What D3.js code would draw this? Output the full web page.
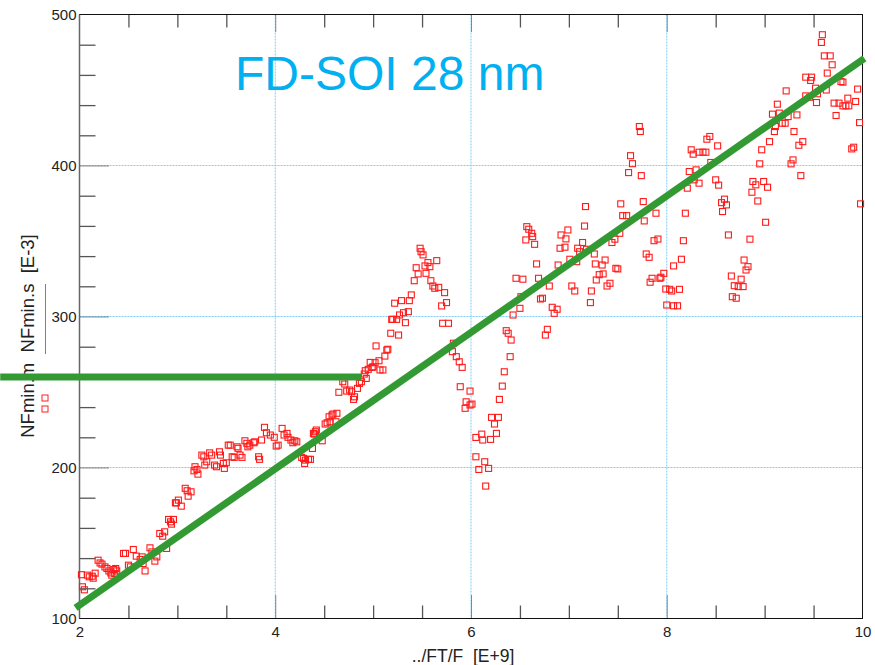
<!DOCTYPE html>
<html lang="en">
  <head>
    <title>NFmin</title>
    <meta charset="UTF-8">
    <script src="https://d3js.org/d3.v7.min.js"></script>
    <style>
      * {
        margin: 0;
        padding: 0;
      }
      body {
        background: white;
      }
      svg {
        display: block;
        font-family: 'Liberation Sans', Arial, sans-serif;
      }
    </style>
  </head>
  <body>
    <script>
      // measured NFmin.m points (x in E+9, y in E-3)
      const nfmX = [
        2.02, 2.03, 2.05, 2.08, 2.10, 2.13, 2.14, 2.16, 2.19, 2.21, 2.23, 2.26, 2.28, 2.30, 2.32, 2.33, 2.35, 2.36, 2.37, 2.38,
        2.45, 2.47, 2.50, 2.52, 2.55, 2.58, 2.62, 2.64, 2.65, 2.67, 2.72, 2.74, 2.77, 2.79, 2.82, 2.85, 2.87, 2.89, 2.91, 2.93,
        2.94, 2.96, 2.98, 2.99, 3.01, 3.04, 3.08, 3.10, 3.11, 3.14, 3.17, 3.18, 3.20, 3.21, 3.25, 3.27, 3.28, 3.30, 3.33, 3.35,
        3.38, 3.40, 3.43, 3.44, 3.47, 3.48, 3.50, 3.52, 3.54, 3.56, 3.58, 3.61, 3.62, 3.64, 3.66, 3.69, 3.71, 3.72, 3.74, 3.78,
        3.79, 3.83, 3.84, 3.86, 3.89, 3.91, 3.95, 3.99, 4.01, 4.03, 4.07, 4.09, 4.12, 4.13, 4.16, 4.18, 4.20, 4.22, 4.27, 4.29,
        4.30, 4.31, 4.34, 4.36, 4.38, 4.39, 4.40, 4.41, 4.42, 4.48, 4.51, 4.53, 4.55, 4.56, 4.58, 4.59, 4.62, 4.63, 4.65, 4.69,
        4.71, 4.73, 4.76, 4.78, 4.80, 4.81, 4.84, 4.86, 4.88, 4.91, 4.92, 4.93, 4.95, 4.97, 4.99, 5.00, 5.02, 5.03, 5.06, 5.07,
        5.10, 5.12, 5.14, 5.15, 5.18, 5.19, 5.20, 5.22, 5.24, 5.26, 5.27, 5.29, 5.31, 5.33, 5.36, 5.37, 5.39, 5.42, 5.44, 5.46,
        5.48, 5.49, 5.51, 5.53, 5.54, 5.56, 5.58, 5.59, 5.61, 5.63, 5.65, 5.67, 5.70, 5.71, 5.73, 5.75, 5.77, 5.81, 5.82, 5.85,
        5.88, 5.89, 5.91, 5.94, 5.95, 5.99, 5.99, 6.01, 6.05, 6.05, 6.08, 6.11, 6.12, 6.14, 6.15, 6.18, 6.20, 6.21, 6.24, 6.26,
        6.28, 6.29, 6.32, 6.34, 6.36, 6.38, 6.40, 6.41, 6.43, 6.46, 6.50, 6.51, 6.53, 6.56, 6.57, 6.59, 6.62, 6.63, 6.65, 6.67,
        6.69, 6.71, 6.73, 6.76, 6.78, 6.80, 6.83, 6.85, 6.88, 6.89, 6.91, 6.92, 6.96, 6.97, 6.99, 7.01, 7.03, 7.06, 7.08, 7.09,
        7.11, 7.14, 7.16, 7.17, 7.18, 7.22, 7.23, 7.26, 7.27, 7.28, 7.31, 7.34, 7.35, 7.37, 7.39, 7.42, 7.44, 7.47, 7.48, 7.50,
        7.52, 7.53, 7.55, 7.59, 7.61, 7.63, 7.65, 7.72, 7.73, 7.74, 7.76, 7.77, 7.79, 7.82, 7.83, 7.85, 7.87, 7.89, 7.91, 7.93,
        7.94, 7.97, 7.99, 8.00, 8.03, 8.05, 8.07, 8.07, 8.11, 8.13, 8.15, 8.17, 8.19, 8.21, 8.23, 8.25, 8.27, 8.28, 8.30, 8.33,
        8.33, 8.37, 8.40, 8.41, 8.44, 8.45, 8.50, 8.52, 8.53, 8.56, 8.57, 8.59, 8.61, 8.63, 8.66, 8.67, 8.69, 8.71, 8.73, 8.76,
        8.78, 8.79, 8.81, 8.83, 8.85, 8.87, 8.88, 8.91, 8.93, 8.95, 8.97, 8.99, 9.01, 9.03, 9.05, 9.08, 9.10, 9.11, 9.13, 9.15,
        9.18, 9.21, 9.22, 9.24, 9.27, 9.29, 9.30, 9.33, 9.35, 9.37, 9.39, 9.42, 9.42, 9.46, 9.47, 9.48, 9.52, 9.53, 9.54, 9.58,
        9.59, 9.61, 9.63, 9.64, 9.67, 9.69, 9.71, 9.73, 9.76, 9.78, 9.80, 9.80, 9.83, 9.85, 9.86, 9.89, 9.91, 9.93, 9.95, 9.97,
        9.98
      ]
      const nfmY = [
        129, 121, 119, 128.7, 127.6, 128, 126.7, 130, 138.6, 136.8, 136, 134.2, 133.1, 131.5, 130.2, 128.7, 132.4, 129.8, 133.1, 131.5,
        143.1, 143.1, 135.3, 134.2, 145.7, 141.3, 139.1, 140.8, 136.4, 131.5, 146.8, 144.1, 138, 140.8, 156.3, 154.5, 157.4, 146.4, 165.6, 164,
        162.5, 165.6, 176.6, 176.6, 178.4, 174.4, 186.2, 184.6, 181, 183.9, 197.8, 200.5, 198.7, 195.6, 208.2, 207.1, 201.6, 203.8, 209.7, 208.2,
        201.6, 200.5, 210.4, 208.2, 202.7, 199.4, 203.1, 214.8, 214.8, 207.1, 206.7, 213.7, 212.7, 208.2, 206.7, 217.7, 216, 213.7, 214.8, 216.4,
        217, 207.1, 205.4, 218.2, 226.6, 223, 221.5, 220, 214.2, 214.8, 225.9, 221.5, 222.6, 220, 218.2, 216.4, 217.7, 217, 206.7, 206,
        202.7, 204.9, 205.4, 205.4, 212.6, 222.6, 222.1, 223.7, 224.8, 217.7, 228.8, 229.6, 233.6, 230.3, 234.7, 235.4, 230.3, 235.9, 249.8, 256.8,
        255.3, 250.6, 251.3, 250.2, 245.1, 246.8, 252.4, 255.7, 256.8, 261.9, 264.1, 259, 265, 269.6, 266.3, 266.7, 269.4, 280.5, 270.7, 264.6,
        264.6, 273.8, 277.8, 278.3, 288.9, 298.1, 298.1, 308.8, 298.1, 287.7, 301, 310.5, 302.5, 295.9, 303.2, 310.5, 314.3, 323.7, 332.3, 328.2,
        345.2, 342.9, 340.8, 333.5, 328.6, 335.7, 333, 323.7, 320.2, 318.7, 337, 319.3, 307, 295.5, 315.8, 309.2, 295.5, 276.7, 282.3, 273.4,
        270, 253.5, 266.3, 239.2, 243.5, 250.6, 241.4, 242, 219.9, 207.1, 198.7, 222.1, 218.2, 203.8, 187.7, 199.4, 218.6, 233.2, 228.8, 222.6,
        233.2, 245.1, 253.9, 263.4, 290.6, 288.9, 273.4, 284.4, 301, 325.3, 305.4, 313.1, 324.7, 350.7, 359.5, 357.8, 355.1, 352.9, 347.8, 334.8,
        325.3, 311.6, 312.1, 287.7, 291.5, 320.2, 306.1, 302.1, 304.8, 334.1, 345.2, 354, 345.9, 351.4, 357.3, 337.9, 320.2, 316.9, 336.3, 345.2,
        342.9, 349, 359.9, 372.8, 344.5, 309.2, 316.9, 341.4, 334.8, 324.2, 327.7, 334.1, 328.2, 337.4, 320.2, 322, 349, 351.2, 331.9, 331.5,
        355.1, 374.6, 366.8, 366.8, 395.3, 406.5, 401.2, 425.8, 422.5, 393.3, 376.1, 363.3, 341.4, 339.2, 322.7, 325.3, 350.2, 368.4, 351.3, 325.3,
        326, 328.6, 318.2, 307.6, 318, 316.9, 333.5, 307.1, 307.1, 318, 337.9, 350.2, 368.4, 385, 396, 410.4, 407.5, 390.5, 397.1, 408.8,
        388.3, 408.8, 408.8, 417.4, 419.2, 402, 390.5, 413, 387, 375.4, 369.5, 377.7, 373.9, 354, 326.8, 313.1, 320.4, 312.1, 319.8, 324.7,
        319.8, 337.4, 330.8, 333, 351.2, 382.3, 389.4, 387.2, 376.5, 401.1, 410.4, 389.4, 362.4, 385.6, 415.8, 434, 422.5, 425.8, 440.6, 434.7,
        428, 428, 449.4, 432.4, 401.1, 403.7, 422.5, 433.5, 413.4, 393.3, 415.8, 458.5, 446.1, 445.2, 456.3, 458.5, 451.2, 441.7, 447.5, 481.5,
        486.6, 472.6, 450, 461.2, 472.6, 466.7, 441.3, 433.1, 441.3, 455.6, 455.2, 439.5, 439.5, 444.6, 439.5, 411, 412.1, 442.4, 450.6, 428.4,
        374.6
      ]

      // green annotation lines drawn over the plot
      const trendLine = [[1.96, 107], [10.02, 471]]
      const levelLine = [[1.19, 260], [4.88, 260]]

      const xMajor = [2, 4, 6, 8, 10]
      const yMajor = [100, 200, 300, 400, 500]
      const xGrid = [4, 6, 8]
      const yGrid = [200, 300, 400]

      const width = 875
      const height = 665
      const plotL = 79.5, plotR = 862.5, plotT = 14.5, plotB = 618.5

      const x = d3.scaleLinear().domain([2, 10]).range([plotL, plotR])
      const y = d3.scaleLinear().domain([100, 500]).range([plotB, plotT])

      const xMinor = d3.range(2.5, 10, 0.5).filter(v => !xMajor.includes(v))
      const yMinor = d3.range(120, 500, 20).filter(v => !yMajor.includes(v))

      const svg = d3.select('body')
                    .append('svg')
                    .attr('width', width)
                    .attr('height', height)

      // grid
      svg.append('g')
         .selectAll('line')
         .data(xGrid)
         .enter()
         .append('line')
         .attr('x1', d => x(d)).attr('x2', d => x(d))
         .attr('y1', plotT).attr('y2', plotB)
         .attr('stroke', '#7fcdf5')
         .attr('stroke-dasharray', '2,1')
      svg.append('g')
         .selectAll('line')
         .data(yGrid)
         .enter()
         .append('line')
         .attr('x1', plotL).attr('x2', plotR)
         .attr('y1', d => y(d)).attr('y2', d => y(d))
         .attr('stroke', '#7fcdf5')
         .attr('stroke-dasharray', '2,1')

      // major ticks (dark dotted) at grid lines
      svg.append('g')
         .attr('transform', 'translate(0,' + plotB + ')')
         .call(d3.axisBottom(x).tickValues(xGrid).tickSize(-24).tickFormat(''))
         .call(g => g.select('.domain').remove())
         .selectAll('line').attr('stroke', '#223').attr('stroke-dasharray', '1,1')
      svg.append('g')
         .attr('transform', 'translate(0,' + plotT + ')')
         .call(d3.axisTop(x).tickValues(xGrid).tickSize(-18).tickFormat(''))
         .call(g => g.select('.domain').remove())
         .selectAll('line').attr('stroke', '#223').attr('stroke-dasharray', '1,1')
      svg.append('g')
         .attr('transform', 'translate(' + plotL + ',0)')
         .call(d3.axisLeft(y).tickValues(yGrid).tickSize(-30).tickFormat(''))
         .call(g => g.select('.domain').remove())
         .selectAll('line').attr('stroke', '#223').attr('stroke-dasharray', '1,1')

      // minor ticks, inward
      svg.append('g')
         .attr('transform', 'translate(0,' + plotB + ')')
         .call(d3.axisBottom(x).tickValues(xMinor).tickSize(-13).tickFormat(''))
         .call(g => g.select('.domain').remove())
         .selectAll('line').attr('stroke', '#555').attr('stroke-width', 1.3)
      svg.append('g')
         .attr('transform', 'translate(0,' + plotT + ')')
         .call(d3.axisTop(x).tickValues(xMinor).tickSize(-13).tickFormat(''))
         .call(g => g.select('.domain').remove())
         .selectAll('line').attr('stroke', '#555').attr('stroke-width', 1.3)
      svg.append('g')
         .attr('transform', 'translate(' + plotL + ',0)')
         .call(d3.axisLeft(y).tickValues(yMinor).tickSize(-16).tickFormat(''))
         .call(g => g.select('.domain').remove())
         .selectAll('line').attr('stroke', '#555').attr('stroke-width', 1.3)

      // frame
      svg.append('rect')
         .attr('x', plotL).attr('y', plotT)
         .attr('width', plotR - plotL).attr('height', plotB - plotT)
         .attr('fill', 'none')
         .attr('stroke', '#111')
      svg.append('line')
         .attr('x1', plotL).attr('x2', plotL)
         .attr('y1', plotT).attr('y2', plotB)
         .attr('stroke', '#666')
         .attr('stroke-width', 1.5)

      // tick labels
      svg.append('g')
         .attr('transform', 'translate(0,' + plotB + ')')
         .call(d3.axisBottom(x).tickValues(xMajor).tickSize(0).tickPadding(8).tickFormat(d3.format('d')))
         .call(g => g.select('.domain').remove())
         .selectAll('text')
         .attr('font-size', 15)
         .attr('font-family', "'Liberation Sans', Arial, sans-serif")
         .attr('fill', '#222')
      svg.append('g')
         .attr('transform', 'translate(' + plotL + ',0)')
         .call(d3.axisLeft(y).tickValues(yMajor).tickSize(0).tickPadding(3).tickFormat(d3.format('d')))
         .call(g => g.select('.domain').remove())
         .selectAll('text')
         .attr('font-size', 15)
         .attr('font-family', "'Liberation Sans', Arial, sans-serif")
         .attr('fill', '#222')

      // axis titles
      svg.append('text')
         .text('../FT/F  [E+9]')
         .attr('x', 463)
         .attr('y', 662)
         .attr('text-anchor', 'middle')
         .attr('font-size', 17.5)
         .attr('fill', '#222')
         .style('white-space', 'pre')
      svg.append('text')
         .text('NFmin.m  NFmin.s  [E-3]')
         .attr('transform', 'translate(34,336) rotate(-90)')
         .attr('text-anchor', 'middle')
         .attr('font-size', 18.5)
         .attr('fill', '#222')
         .style('white-space', 'pre')

      // legend marks next to the y title
      svg.append('line')
         .attr('x1', 45.5).attr('x2', 45.5)
         .attr('y1', 284).attr('y2', 354)
         .attr('stroke', '#7070ff')
      svg.selectAll('.legsq')
         .data([398, 409])
         .enter()
         .append('rect')
         .attr('x', 42).attr('y', d => d - 3)
         .attr('width', 6).attr('height', 6)
         .attr('fill', 'none')
         .attr('stroke', '#ff2020')

      // data points
      const pts = nfmX.map((v, i) => [v, nfmY[i]])
      svg.append('g')
         .selectAll('rect')
         .data(pts)
         .enter()
         .append('rect')
         .attr('x', d => x(d[0]) - 3)
         .attr('y', d => y(d[1]) - 3)
         .attr('width', 6)
         .attr('height', 6)
         .attr('fill', 'none')
         .attr('stroke', '#ff1a1a')
         .attr('stroke-width', 1.1)

      // green lines
      const line = d3.line().x(d => x(d[0])).y(d => y(d[1]))
      svg.append('path')
         .attr('d', line(levelLine))
         .attr('stroke', '#339933')
         .attr('stroke-width', 7)
         .attr('fill', 'none')
      svg.append('path')
         .attr('d', line(trendLine))
         .attr('stroke', '#339933')
         .attr('stroke-width', 7)
         .attr('fill', 'none')

      // title
      svg.append('text')
         .text('FD-SOI 28 nm')
         .attr('x', 235)
         .attr('y', 90)
         .attr('font-size', 48)
         .attr('fill', '#00b0f0')
    </script>
  </body>
</html>
